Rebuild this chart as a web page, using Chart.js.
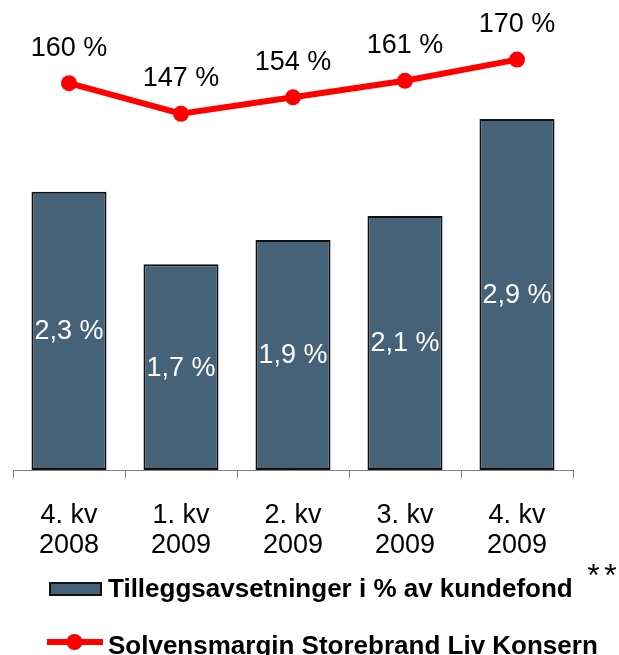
<!DOCTYPE html>
<html><head><meta charset="utf-8">
<script src="https://cdn.jsdelivr.net/npm/chart.js@4"></script>
<style>html,body{margin:0;padding:0;background:#fff;overflow:hidden}</style>
</head><body>
<canvas id="c" width="619" height="655"></canvas>
<script>
const categories = [['4. kv','2008'],['1. kv','2009'],['2. kv','2009'],['3. kv','2009'],['4. kv','2009']];
const reserveValues = [2.3, 1.7, 1.9, 2.1, 2.9];
const solvencyValues = [160, 147, 154, 161, 170];
const reserveLabels = ['2,3 %','1,7 %','1,9 %','2,1 %','2,9 %'];
const solvencyLabels = ['160 %','147 %','154 %','161 %','170 %'];
const seriesNames = ['Tilleggsavsetninger i % av kundefond', 'Solvensmargin Storebrand Liv Konsern'];
const footnoteMark = '**';

const FONT = '"Liberation Sans", Arial, sans-serif';
const BAR_COLOR = '#466279';
const LINE_COLOR = '#ff0000';

const labelPlugin = {
  id: 'labels',
  afterDatasetsDraw(chart) {
    const ctx = chart.ctx;
    ctx.save();
    ctx.textAlign = 'center';
    ctx.textBaseline = 'middle';
    ctx.font = '27px ' + FONT;
    const bars = chart.getDatasetMeta(0).data;
    ctx.fillStyle = '#ffffff';
    bars.forEach((b, i) => {
      ctx.fillText(reserveLabels[i], b.x, (b.y + b.base) / 2 + 1);
    });
    const pts = chart.getDatasetMeta(1).data;
    ctx.fillStyle = '#000000';
    pts.forEach((p, i) => {
      ctx.fillText(solvencyLabels[i], p.x, p.y - 35);
    });
    ctx.restore();
  },
  afterDraw(chart) {
    const ctx = chart.ctx;
    ctx.save();
    // legend item 1
    ctx.fillStyle = BAR_COLOR;
    ctx.fillRect(49, 582, 53, 14);
    ctx.strokeStyle = '#111111';
    ctx.lineWidth = 2;
    ctx.strokeRect(50, 583, 51, 12);
    ctx.fillStyle = '#000000';
    ctx.textAlign = 'left';
    ctx.textBaseline = 'alphabetic';
    ctx.font = 'bold 26px ' + FONT;
    ctx.fillText(seriesNames[0], 108, 597);
    ctx.font = '32px ' + FONT;
    ctx.textAlign = 'center';
    ctx.fillText(footnoteMark[0], 593.5, 586);
    ctx.fillText(footnoteMark[1], 610.5, 586);
    // legend item 2
    ctx.strokeStyle = LINE_COLOR;
    ctx.lineWidth = 6;
    ctx.beginPath();
    ctx.moveTo(47, 642);
    ctx.lineTo(103, 642);
    ctx.stroke();
    ctx.fillStyle = LINE_COLOR;
    ctx.beginPath();
    ctx.arc(74.5, 642, 8, 0, Math.PI * 2);
    ctx.fill();
    ctx.fillStyle = '#000000';
    ctx.textAlign = 'left';
    ctx.font = 'bold 26px ' + FONT;
    ctx.fillText(seriesNames[1], 108, 653.5);
    ctx.restore();
  }
};

new Chart(document.getElementById('c'), {
  type: 'bar',
  data: {
    labels: categories,
    datasets: [
      {
        type: 'bar',
        label: seriesNames[0],
        data: reserveValues,
        backgroundColor: BAR_COLOR,
        borderColor: '#111111',
        borderWidth: 2,
        borderSkipped: false,
        barPercentage: 0.67,
        categoryPercentage: 1,
        yAxisID: 'y',
        order: 2
      },
      {
        type: 'line',
        label: seriesNames[1],
        data: solvencyValues,
        borderColor: LINE_COLOR,
        backgroundColor: LINE_COLOR,
        borderWidth: 6,
        pointRadius: 8,
        pointHoverRadius: 8,
        pointBackgroundColor: LINE_COLOR,
        pointBorderWidth: 0,
        tension: 0,
        clip: false,
        yAxisID: 'y2',
        order: 1
      }
    ]
  },
  options: {
    responsive: false,
    animation: false,
    devicePixelRatio: 1,
    layout: { autoPadding: false, padding: { left: 13, right: 46, top: 0, bottom: 75 } },
    plugins: { legend: { display: false }, tooltip: { enabled: false } },
    scales: {
      x: {
        offset: true,
        grid: { offset: true, drawOnChartArea: false, drawTicks: true, tickLength: 8, color: '#808080', lineWidth: 1 },
        border: { display: true, color: '#808080', width: 1 },
        ticks: { color: '#000000', font: { family: FONT, size: 27, lineHeight: 1.12 }, padding: 22, maxRotation: 0, autoSkip: false },
        afterFit: s => { s.height = 110; }
      },
      y: { display: false, min: 0, max: 3.884 },
      y2: { display: false, position: 'right', min: -4.27, max: 195.31 }
    }
  },
  plugins: [labelPlugin]
});
</script>
</body></html>
